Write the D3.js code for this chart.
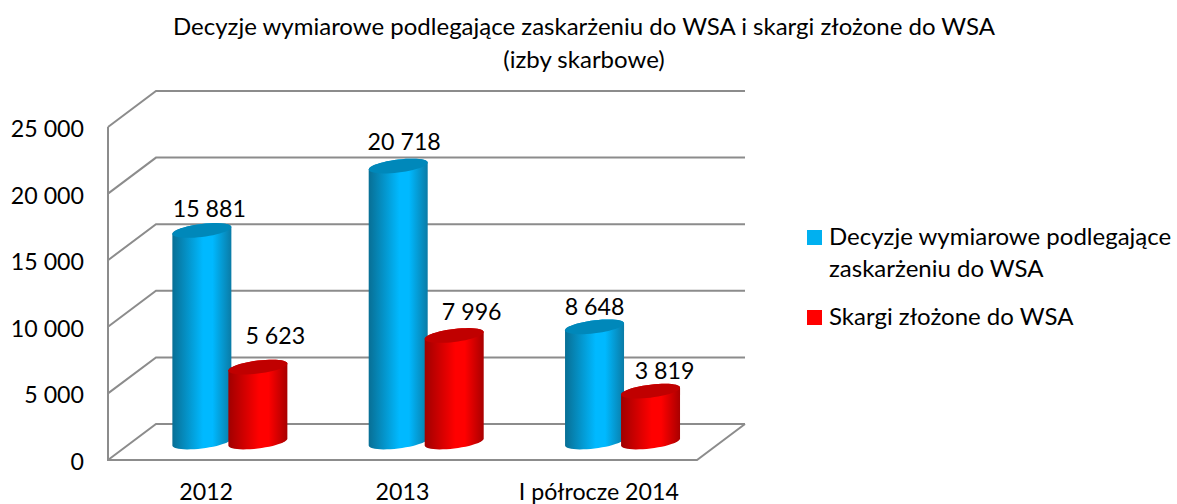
<!DOCTYPE html>
<html>
<head>
<meta charset="utf-8">
<script src="https://cdn.jsdelivr.net/npm/d3@7"></script>
<style>
  html, body { margin: 0; background: #fff; }
  text { font-family: Lato, sans-serif; fill: #000; }
</style>
</head>
<body>
<svg id="chart" width="1177" height="504"></svg>
<script>
// chart values
const categories = ["2012", "2013", "I półrocze 2014"];
const decyzje = [15881, 20718, 8648];
const skargi = [5623, 7996, 3819];
const yTicks = [0, 5000, 10000, 15000, 20000, 25000];
const titleLines = ["Decyzje wymiarowe podlegające zaskarżeniu do WSA i skargi złożone do WSA", "(izby skarbowe)"];
const legendLines = [["Decyzje wymiarowe podlegające", "zaskarżeniu do WSA"], ["Skargi złożone do WSA"]];

const svg = d3.select("#chart");
const fmt = d3.formatLocale({ thousands: " ", grouping: [3], decimal: ",", currency: ["", ""] }).format(",d");

// front plane of the 3d box, back wall sits depthX/depthY away
const x = d3.scaleBand().domain(categories).range([108, 697]);
const y = d3.scaleLinear().domain([0, 25000]).range([460, 127]);
const depthX = 48, depthY = -36;
const gridColor = "#8c8c8c";
const fontSize = 23.2;

const walls = svg.append("g").attr("fill", "none").attr("stroke", gridColor).attr("stroke-width", 2);
yTicks.forEach(t => {
  // diagonal on the side wall + line on the back wall
  walls.append("path").attr("d", d3.line()([
    [x.range()[0], y(t)],
    [x.range()[0] + depthX, y(t) + depthY],
    [x.range()[1] + depthX, y(t) + depthY]
  ]));
});
walls.append("path").attr("d", d3.line()([
  [x.range()[0], y(25000)],
  [x.range()[0], y(0)],
  [x.range()[1], y(0)],
  [x.range()[1] + depthX, y(0) + depthY]
]));

// y axis, only the labels are visible
const yAxis = svg.append("g")
  .attr("transform", "translate(108,0)")
  .call(d3.axisLeft(y).tickValues(yTicks).tickFormat(fmt).tickSize(0).tickPadding(24));
yAxis.select(".domain").remove();
yAxis.selectAll("text").attr("font-size", fontSize).attr("font-family", null).attr("dy", 9.5);

// x axis labels
svg.selectAll(".cat").data(categories).join("text")
  .attr("class", "cat")
  .attr("x", d => x(d) + x.bandwidth() / 2)
  .attr("y", 500)
  .attr("text-anchor", "middle")
  .attr("font-size", fontSize)
  .text(d => d);

// gradients for the cylinders
const defs = svg.append("defs");
function addGradient(id, edgeL, mid, edgeR) {
  const g = defs.append("linearGradient").attr("id", id);
  g.append("stop").attr("offset", "0%").attr("stop-color", edgeL);
  g.append("stop").attr("offset", "52%").attr("stop-color", mid);
  g.append("stop").attr("offset", "68%").attr("stop-color", mid);
  g.append("stop").attr("offset", "100%").attr("stop-color", edgeR);
}
addGradient("blueBody", "#086f95", "#00b9ff", "#0a7ba6");
addGradient("redBody", "#a00000", "#ff0000", "#a80000");

const barW = 59, barStep = 56;
const rx = barW / 2, ry = 6.5, skew = 3.5;

// tilted ellipse point, t=0 is the right edge
function rim(cx, cy, t) {
  return [cx + rx * Math.cos(t), cy + ry * Math.sin(t) - skew * Math.cos(t)];
}

function barCenter(cat, i) {
  return x(cat) + x.bandwidth() / 2 + depthX / 2 - barStep / 2 + i * barStep - 0.3;
}

function cylinder(cat, value, i, body, top) {
  const cx = barCenter(cat, i);
  const base = y(0) + depthY / 2;
  const topY = y(value) + depthY / 2;
  const ts = d3.range(0, 25).map(k => Math.PI * k / 24);
  // bottom half of the rim runs right to left, then up the left side and back over the top
  const bottomArc = ts.map(t => rim(cx, base, t));
  const topBack = ts.map(t => rim(cx, topY, Math.PI + t));
  svg.append("path")
    .attr("d", d3.line()(bottomArc.concat(topBack)) + "Z")
    .attr("fill", `url(#${body})`);
  const full = ts.concat(ts.map(t => Math.PI + t)).map(t => rim(cx, topY, t));
  svg.append("path").attr("d", d3.line()(full) + "Z").attr("fill", top);
}

categories.forEach((c, k) => {
  cylinder(c, decyzje[k], 0, "blueBody", "#0088ba");
  cylinder(c, skargi[k], 1, "redBody", "#c00000");
});

// data labels, sit a bit off the bar centre like in the source chart
const labelShift = [[7.5, -5.5], [6, -8], [0, -4]];
const labelShiftRed = [[17.5, -15], [17.5, -7.5], [14, -4]];
function dataLabel(cat, value, i, shift) {
  svg.append("text")
    .attr("x", barCenter(cat, i) + shift[0])
    .attr("y", y(value) + depthY / 2 - 8 + shift[1])
    .attr("text-anchor", "middle")
    .attr("font-size", fontSize)
    .text(fmt(value));
}
categories.forEach((c, k) => {
  dataLabel(c, decyzje[k], 0, labelShift[k]);
  dataLabel(c, skargi[k], 1, labelShiftRed[k]);
});

// title
svg.selectAll(".title").data(titleLines).join("text")
  .attr("class", "title")
  .attr("x", 584)
  .attr("y", (d, i) => 35 + i * 33)
  .attr("text-anchor", "middle")
  .attr("font-size", 24)
  .text(d => d);

// legend
const legendTop = [230, 310];
const legendColors = ["#00b0f0", "#ff0000"];
legendLines.forEach((lines, i) => {
  svg.append("rect").attr("x", 807).attr("y", legendTop[i]).attr("width", 15).attr("height", 15).attr("fill", legendColors[i]);
  lines.forEach((l, j) => {
    svg.append("text").attr("x", 829).attr("y", legendTop[i] + 15 + j * 32).attr("font-size", 24).text(l);
  });
});
</script>
</body>
</html>
